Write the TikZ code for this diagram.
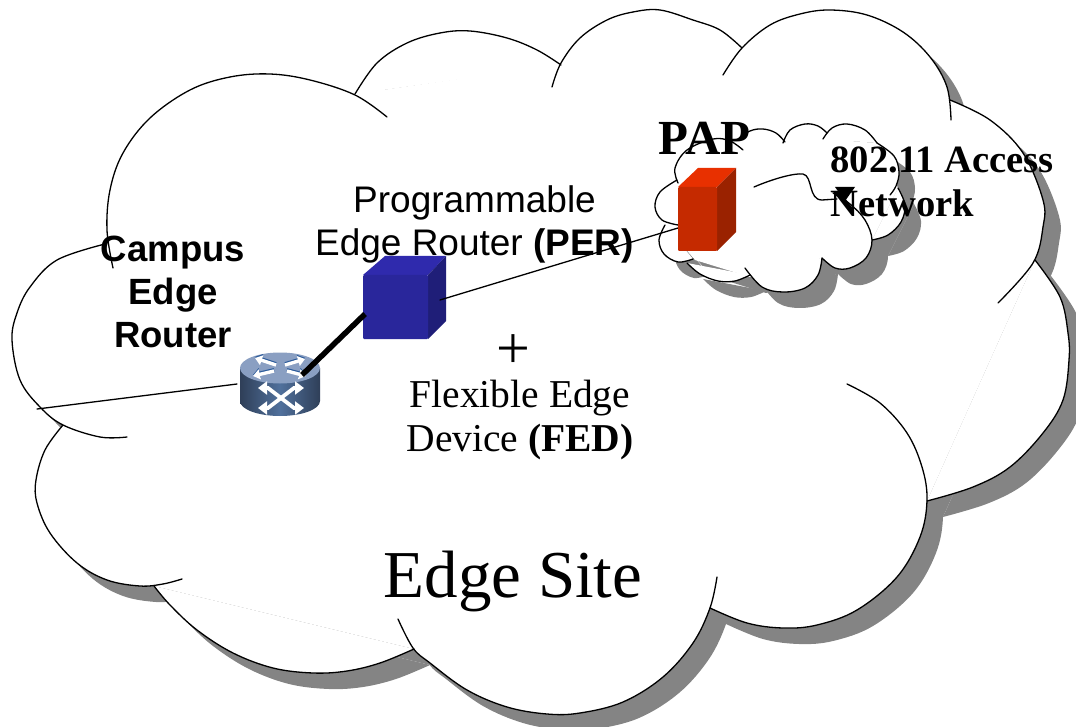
\documentclass[tikz,border=0pt]{standalone}
\usepackage{fontspec}
\setmainfont{Liberation Serif}
\setsansfont{Liberation Sans}
\usetikzlibrary{arrows.meta}
\definecolor{shadowgray}{HTML}{848484}
\definecolor{routerdark}{HTML}{2F3F58}
\definecolor{routermid}{HTML}{50709C}
\definecolor{routertopc}{HTML}{8A9FC2}
\definecolor{routerblue}{HTML}{2A5A9A}
\tikzset{
  edgeline/.style={black,line width=1.3pt,line cap=round},
  serifbig/.style={font=\fontsize{39.5}{44}\selectfont,align=center,inner sep=0pt},
  sanslabel/.style={font=\fontsize{37}{43}\selectfont\sffamily,align=center,inner sep=0pt},
  bodyarrow/.style={white,line width=3.8pt,{Triangle[length=9pt,width=13pt]}-{Triangle[length=9pt,width=13pt]}},
  toparrow/.style={line width=3.4pt,-{Triangle[length=7pt,width=10pt]}},
}
% big cloud lobes
\newcommand\bigA{(113,268)(107,230)(110,190)(123,153)(150,118)(190,90)(230,77)(270,74)(310,80)(355,95)(387,117)}
\newcommand\bigB{(355,94)(377,63)(407,43)(440,33)(470,31)(507,38)(537,50)(561,65)}
\newcommand\bigC{(552,87)(561,63)(580,38)(607,20)(633,12)(660,10)(693,20)(720,30)(742,48)}
\newcommand\bigD{(723,75)(742,48)(770,25)(800,14)(830,10)(867,15)(903,32)(930,57)(947,87)(951,120)}
\newcommand\bigE{(950,100)(990,120)(1023,153)(1043,200)(1043,227)(1033,263)(998,303)}
\newcommand\bigF{(1035,260)(1060,297)(1068,333)(1069,360)(1063,400)(1043,433)(1010,467)(973,487)(927,501)}
\newcommand\bigG{(847,384)(880,403)(907,433)(922,467)(927,500)(920,537)(897,577)(857,610)(817,625)(783,628)(747,623)(710,608)}
\newcommand\bigH{(717,577)(710,608)(693,643)(663,677)(623,702)(580,713)(547,714)(507,707)(467,690)(430,663)(413,648)(398,619)}
\newcommand\bigI{(414,649)(380,663)(347,671)(313,673)(273,668)(233,653)(197,630)(170,605)(154,586)}
\newcommand\bigJ{(182,579)(163,584)(140,586)(107,580)(77,563)(50,533)(37,503)(36,480)(45,450)(63,425)}
\newcommand\bigK{(127,437)(100,437)(63,425)(40,407)(20,380)(12,340)(17,313)(30,287)(57,260)(105,244)}
% small cloud lobes
\newcommand\smA{(678,183)(675,168)(687,150)(713,139)(730,141)(743,150)}
\newcommand\smB{(737,140)(750,131)(763,129)(776,133)(785,142)}
\newcommand\smC{(783,143)(790,130)(805,124)(818,126)(827,133)}
\newcommand\smD{(823,139)(832,128)(847,124)(865,130)(877,143)}
\newcommand\smE{(877,143)(894,156)(899,172)(896,186)(890,195)}
\newcommand\smF{(898,188)(905,205)(901,222)(888,235)(872,240)}
\newcommand\smG{(833,193)(850,204)(865,220)(872,240)(866,258)(850,268)(835,268)(822,258)}
\newcommand\smH{(822,258)(818,275)(805,288)(783,292)(762,287)(745,268)}
\newcommand\smI{(750,275)(735,281)(718,281)(700,274)(687,263)}
\newcommand\smJ{(693,259)(678,262)(664,254)(659,240)(665,225)}
\newcommand\smK{(678,225)(662,220)(655,207)(660,192)(677,180)}
\newcommand\lobefill[1]{\edef\tmplobe{\noexpand\fill plot[smooth,tension=0.6] coordinates {#1} -- cycle;}\tmplobe}
\newcommand\lobedraw[1]{\edef\tmplobe{\noexpand\draw[edgeline] plot[smooth,tension=0.6] coordinates {#1};}\tmplobe}
\begin{document}
\begin{tikzpicture}[x=1pt,y=-1pt]
\useasboundingbox (0,0) rectangle (1076,727);
\newcommand\fillbig{%
  \foreach \l in {\bigA,\bigB,\bigC,\bigD,\bigE,\bigF,\bigG,\bigH,\bigI,\bigJ,\bigK}{\lobefill{\l}}
  \fill (105,244)--(355,94)--(561,64)--(742,48)--(950,100)--(1035,260)--(927,501)--(710,608)--(414,649)--(154,586)--(63,425)--cycle;}
\newcommand\fillsmall{%
  \foreach \l in {\smA,\smB,\smC,\smD,\smE,\smF,\smG,\smH,\smI,\smJ,\smK}{\lobefill{\l}}
  \fill (677,180)--(737,142)--(783,143)--(823,139)--(877,143)--(898,188)--(872,240)--(822,258)--(750,277)--(695,260)--(665,225)--cycle;}
% big cloud
\begin{scope}[shift={(16,16)},shadowgray]\fillbig\end{scope}
\begin{scope}[white]\fillbig\end{scope}
\foreach \l in {\bigA,\bigB,\bigC,\bigD,\bigE,\bigF,\bigG,\bigH,\bigI,\bigJ,\bigK}{\lobedraw{\l}}
% small cloud
\begin{scope}[shift={(16,16)},shadowgray]\fillsmall\end{scope}
\begin{scope}[white]\fillsmall\end{scope}
\foreach \l in {\smA,\smB,\smC,\smD,\smE,\smF,\smG,\smH,\smI,\smJ,\smK}{\lobedraw{\l}}
% devices
\coordinate (leftend) at (37,409);
\coordinate (routerleft) at (237,384);
\coordinate (routertop) at (302,375);
\coordinate (perleft) at (365,314);
\coordinate (perright) at (440,300);
\coordinate (papleft) at (678,228);
\coordinate (wavestart) at (754,187);
\coordinate (waveend) at (837,199);
\draw[edgeline] (leftend) -- (routerleft);
% PER cube
\fill[fill={rgb,255:red,47;green,42;blue,173}] (363,275)--(385,256)--(446,256)--(428,275)--cycle;
\fill[fill={rgb,255:red,31;green,30;blue,120}] (428,275)--(446,256)--(446,321)--(428,339)--cycle;
\node[fill={rgb,255:red,41;green,38;blue,155},minimum width=65pt,minimum height=64pt,inner sep=0pt,rounded corners=1pt] (per) at (395.5,307) {};
\draw[edgeline] (perright) -- (papleft);
% PAP box
\fill[fill={rgb,255:red,232;green,48;blue,0}] (678,187)--(698,168)--(736,168)--(717,187)--cycle;
\fill[fill={rgb,255:red,154;green,34;blue,0}] (717,187)--(736,168)--(736,232)--(717,251)--cycle;
\node[fill={rgb,255:red,197;green,42;blue,0},minimum width=39pt,minimum height=64pt,inner sep=0pt,rounded corners=1pt] (pap) at (697.5,219) {};
% router
\shade[left color=routerdark,right color=routerdark,middle color=routermid]
  (240,368) -- (240,401) arc[start angle=180,end angle=360,x radius=40pt,y radius=15pt] -- (320,368) -- cycle;
\fill[routertopc] (280,368) ellipse[x radius=40pt,y radius=15.5pt];
\node[minimum width=80pt,minimum height=64pt,inner sep=0pt] (router) at (280,384) {};
\draw[bodyarrow] (258,388)--(268,388)--(294,408)--(304,408);
\draw[bodyarrow] (258,408)--(268,408)--(294,388)--(304,388);
\foreach \c/\s in {routerblue/1.2,white/0}{
  \begin{scope}[yshift=\s pt]
  \draw[toparrow,\c] (276,365)--(255,358);
  \draw[toparrow,\c] (285,365)--(305,359);
  \draw[toparrow,\c] (274,371)--(253,376);
  \draw[toparrow,\c] (287,371)--(306,376);
  \end{scope}}
% connectors
\draw[black,line width=5.5pt] (routertop) -- (perleft);
\draw[edgeline] (wavestart) .. controls (775,178) and (795,173) .. (803,174) .. controls (813,176) and (808,200) .. (822,200) -- (waveend);
\fill[black] (835,187)--(855,187)--(845,201)--cycle;
% labels
\node[sanslabel,font=\fontsize{36.5}{43}\selectfont\sffamily\bfseries] (cer) at (173,292) {Campus\\Edge\\Router};
\node[sanslabel] (perlabel) at (474.5,224) {Programmable\\Edge Router \textbf{(PER)}};
\node[inner sep=0pt,font=\fontsize{49}{49}\selectfont\bfseries] (paplabel) at (704.5,138) {PAP};
\node[inner sep=0pt,align=left,font=\fontsize{38.6}{44}\selectfont\bfseries] (netlabel) at (942,182) {802.11 Access\\\hspace*{0pt}Network};
\node[inner sep=0pt,font=\fontsize{60}{60}\selectfont] (plus) at (513,352) {+};
\node[serifbig] (fedlabel) at (520,420) {Flexible Edge\\Device \textbf{(FED)}};
\node[inner sep=0pt,font=\fontsize{67}{67}\selectfont] (site) at (513,581) {Edge Site};
\end{tikzpicture}
\end{document}
